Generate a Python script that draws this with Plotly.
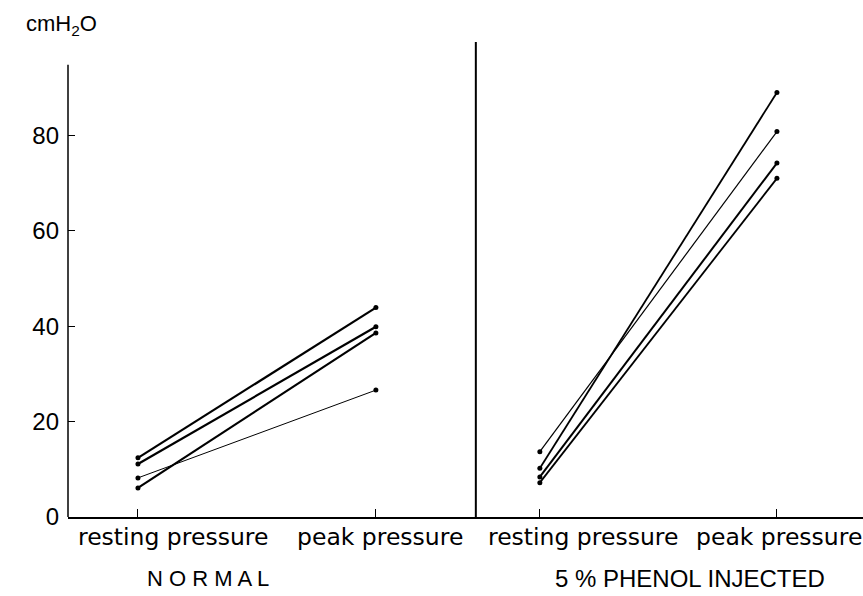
import plotly.graph_objects as go

categories = ["resting pressure", "peak pressure"]
y_ticks = [0, 20, 40, 60, 80]
panel_titles = ["N O R M A L", "5 % PHENOL INJECTED"]

# Left panel (NORMAL): resting -> peak, cmH2O
normal_resting = [12.4, 11.1, 6.1, 8.2]
normal_peak = [43.9, 39.9, 38.6, 26.6]
normal_width = [2.2, 2.2, 2.2, 1.0]

# Right panel (5 % phenol injected)
phenol_resting = [13.7, 10.2, 8.4, 7.2]
phenol_peak = [80.8, 89.0, 74.2, 71.0]
phenol_width = [1.2, 1.8, 2.0, 1.8]

FONT = "Liberation Sans, Arial, sans-serif"
TICKFONT = "DejaVu Sans, sans-serif"

fig = go.Figure()
for r, p, w in zip(normal_resting, normal_peak, normal_width):
    fig.add_trace(go.Scatter(x=categories, y=[r, p], mode="lines+markers",
                             line=dict(color="black", width=w),
                             marker=dict(color="black", size=5),
                             xaxis="x", yaxis="y", showlegend=False))
for r, p, w in zip(phenol_resting, phenol_peak, phenol_width):
    fig.add_trace(go.Scatter(x=categories, y=[r, p], mode="lines+markers",
                             line=dict(color="black", width=w),
                             marker=dict(color="black", size=5),
                             xaxis="x2", yaxis="y", showlegend=False))

DIV = 0.513
axis_common = dict(type="category", showline=True, linecolor="black", linewidth=1.5,
                   ticks="inside", ticklen=8, tickcolor="black", tickwidth=1,
                   showgrid=False, zeroline=False, automargin=False,
                   showticklabels=False)
fig.update_layout(
    width=863, height=596,
    margin=dict(l=68, r=0, t=40, b=79, autoexpand=False),
    paper_bgcolor="white", plot_bgcolor="white",
    xaxis=dict(domain=[0, DIV], range=[-0.294, 1.42], anchor="y", **axis_common),
    xaxis2=dict(domain=[DIV, 1], range=[-0.270, 1.363], anchor="y", **axis_common),
    yaxis=dict(range=[0, 100], tickvals=y_ticks, ticks="inside", ticklen=7,
               tickcolor="black", tickwidth=1, showline=False, showgrid=False,
               zeroline=False, ticklabelstandoff=8, automargin=False,
               tickfont=dict(family=FONT, size=24, color="black")),
    font=dict(family=FONT, color="black"),
)

# category labels (the reference sets them slightly off the tick marks)
label_shift = {("x", 0): 35, ("x", 1): 4, ("x2", 0): 43, ("x2", 1): 2}
for ax in ("x", "x2"):
    for i, cat in enumerate(categories):
        fig.add_annotation(text=cat, xref=ax, yref="paper", x=cat, y=-(537 - 517) / 477,
                           xanchor="center", yanchor="middle", showarrow=False,
                           xshift=label_shift[(ax, i)],
                           font=dict(family=TICKFONT, size=23.5, color="black"))

# left y-axis line and panel divider
fig.add_shape(type="line", xref="paper", yref="y", x0=0, x1=0, y0=0, y1=94.8,
              line=dict(color="black", width=1.5))
fig.add_shape(type="line", xref="paper", yref="y", x0=DIV, x1=DIV, y0=0, y1=99.6,
              line=dict(color="black", width=2))

fig.add_annotation(text="cmH<sub>2</sub>O", xref="paper", yref="paper", x=-0.055, y=1.031,
                   xanchor="left", yanchor="middle", showarrow=False,
                   font=dict(family=FONT, size=22, color="black"))
fig.add_annotation(text=panel_titles[0], xref="paper", yref="paper", x=(208 - 68) / 795,
                   y=-(578 - 517) / 477,
                   xanchor="center", yanchor="middle", showarrow=False,
                   font=dict(family=FONT, size=22, color="black"))
fig.add_annotation(text=panel_titles[1], xref="paper", yref="paper", x=(690 - 68) / 795,
                   y=-(578 - 517) / 477,
                   xanchor="center", yanchor="middle", showarrow=False,
                   font=dict(family=FONT, size=24, color="black"))

fig.write_html("out.html", config={"displayModeBar": False},
               post_script="document.body.style.margin='0';document.body.style.overflow='hidden';")
